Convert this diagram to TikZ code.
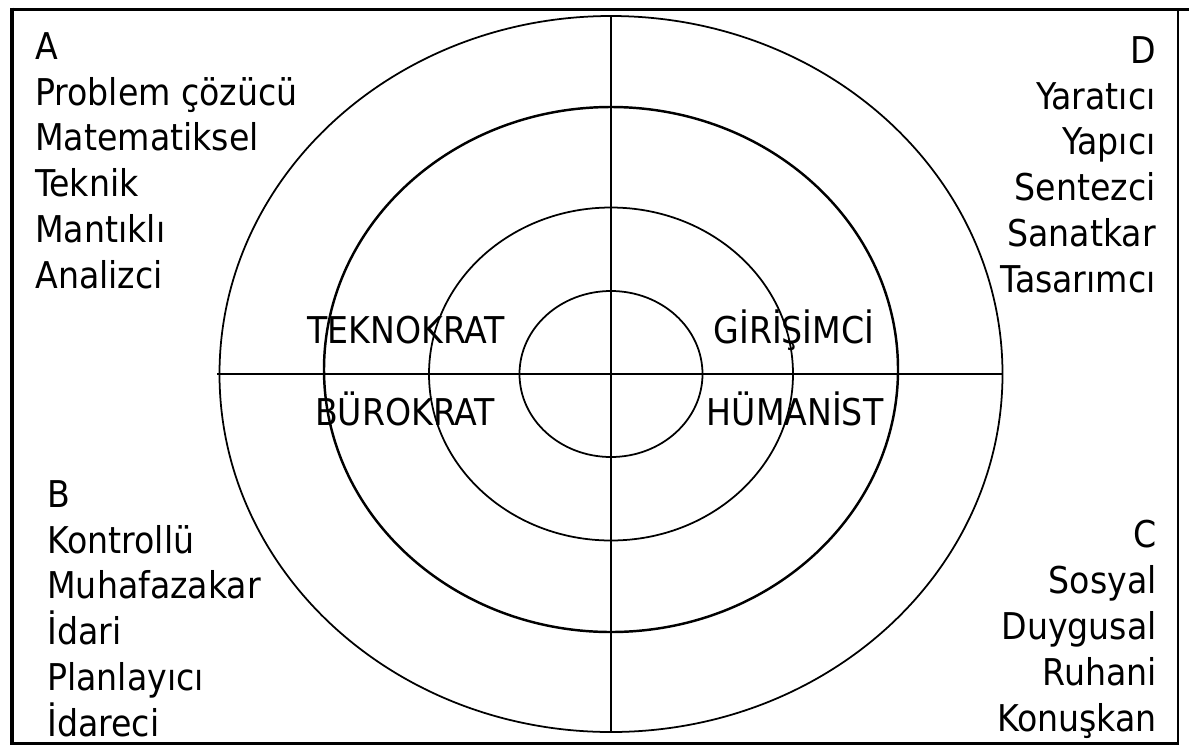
\documentclass[tikz,border=0pt]{standalone}
\usepackage{fontspec}
\setmainfont{DejaVu Sans Condensed}
\usetikzlibrary{positioning}

\begin{document}
\begin{tikzpicture}[x=0.02cm, y=-0.02cm]
  \tikzstyle{lst}=[inner sep=0pt, font=\fontsize{21}{26.1}\selectfont]
  \tikzstyle{typ}=[inner sep=0pt, anchor=base, font=\fontsize{21}{25}\selectfont]
  \tikzstyle{ring}=[line width=1pt]
  \tikzstyle{axis}=[line width=1.2pt]

  \useasboundingbox (0,0) rectangle (1189,751);

  \coordinate (tl) at (12,9.5);
  \coordinate (tr) at (1178,9.5);
  \coordinate (bl) at (12,743.5);
  \coordinate (br) at (1178,743.5);
  \draw[line width=2.5pt] (12,7.5) -- (bl);
  \draw[line width=2.2pt] (10,9.5) -- (1189,9.5);
  \draw[line width=2pt] (10,743.5) -- (1179,743.5);
  \draw[line width=0.8pt] (tr) -- (br);

  \coordinate (o)  at (611,374);
  \coordinate (o2) at (611,369.5);
  \coordinate (up) at (611,16);
  \coordinate (dn) at (611,732);
  \coordinate (lf) at (217,374);
  \coordinate (rt) at (1003,374);

  \draw[ring] (o) ellipse [x radius=391.5, y radius=358];
  \draw[ring, line width=1.4pt] (o2) ellipse [x radius=287, y radius=262.5];
  \draw[ring] (o) ellipse [x radius=182, y radius=166.5];
  \draw[ring] (o) ellipse [x radius=91.5, y radius=83];
  \draw[axis] (up) -- (dn);
  \draw[axis] (lf) -- (rt);

  \node[lst, anchor=north west, align=left] (a) at (35,32)
    {A\\Problem çözücü\\Matematiksel\\Teknik\\Mantıklı\\Analizci};
  \node[lst, anchor=north east, align=right] (d) at (1156,36)
    {D\\Yaratıcı\\Yapıcı\\Sentezci\\Sanatkar\\Tasarımcı};
  \node[lst, anchor=north west, align=left] (b) at (47,480)
    {B\\Kontrollü\\Muhafazakar\\İdari\\Planlayıcı\\İdareci};
  \node[lst, anchor=north east, align=right] (c) at (1157,520)
    {C\\Sosyal\\Duygusal\\Ruhani\\Konuşkan};

  \node[typ] (tek) at (406,343) {TEKNOKRAT};
  \node[typ] (gir) at (794,343) {GİRİŞİMCİ};
  \node[typ] (bur) at (405,425) {BÜROKRAT};
  \node[typ] (hum) at (795,425) {HÜMANİST};
\end{tikzpicture}
\end{document}
